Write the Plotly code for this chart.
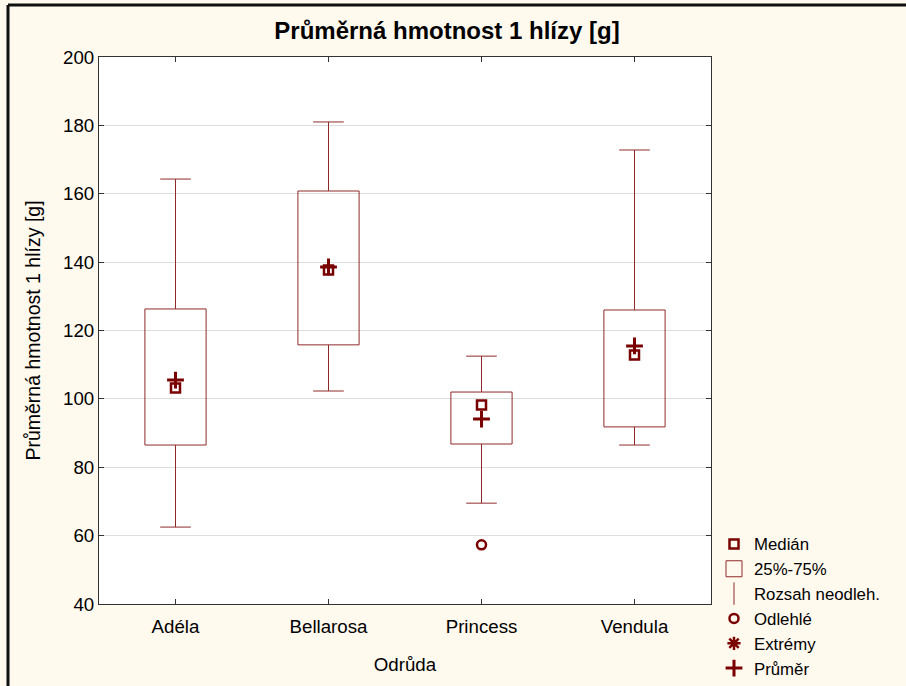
import plotly.graph_objects as go

categories = ["Adéla", "Bellarosa", "Princess", "Vendula"]
medians = [103.2, 137.7, 98.2, 112.8]
q1 = [86.5, 115.8, 86.8, 91.8]
q3 = [126.3, 160.8, 102.0, 126.0]
whisker_low = [62.5, 102.3, 69.5, 86.5]
whisker_high = [164.3, 181.0, 112.5, 172.8]
means = [105.5, 138.6, 94.1, 115.5]
outlier_cat = ["Princess"]
outlier_val = [57.3]
y_ticks = [40, 60, 80, 100, 120, 140, 160, 180, 200]

LINE = "#902A2A"
MARK = "#7A0000"
BOX_HALF = 0.2
CAP_HALF = 0.1
FS = 18.7

fig = go.Figure()

bx, by, wx, wy = [], [], [], []
for i in range(len(categories)):
    l, r = i - BOX_HALF, i + BOX_HALF
    bx += [l, r, r, l, l, None]
    by += [q1[i], q1[i], q3[i], q3[i], q1[i], None]
    wx += [i, i, None, i - CAP_HALF, i + CAP_HALF, None]
    wy += [q3[i], whisker_high[i], None, whisker_high[i], whisker_high[i], None]
    wx += [i, i, None, i - CAP_HALF, i + CAP_HALF, None]
    wy += [q1[i], whisker_low[i], None, whisker_low[i], whisker_low[i], None]

fig.add_trace(go.Scatter(x=bx, y=by, mode="lines", line=dict(color=LINE, width=1),
                         showlegend=False, hoverinfo="skip"))
fig.add_trace(go.Scatter(x=wx, y=wy, mode="lines", line=dict(color=LINE, width=1),
                         showlegend=False, hoverinfo="skip"))

idx = list(range(len(categories)))
fig.add_trace(go.Scatter(x=idx, y=medians, mode="markers", name="Medián",
                         marker=dict(symbol="square-open", size=9, color=MARK,
                                     line=dict(width=2.5, color=MARK))))
fig.add_trace(go.Scatter(x=[None], y=[None], mode="markers", name="25%-75%",
                         marker=dict(symbol="square-open", size=16, color=LINE,
                                     line=dict(width=1, color=LINE))))
fig.add_trace(go.Scatter(x=[None], y=[None], mode="markers", name="Rozsah neodleh.",
                         marker=dict(symbol="line-ns-open", size=17, color=LINE,
                                     line=dict(width=1, color=LINE))))
fig.add_trace(go.Scatter(x=[categories.index(c) for c in outlier_cat], y=outlier_val,
                         mode="markers", name="Odlehlé",
                         marker=dict(symbol="circle-open", size=9, color=MARK,
                                     line=dict(width=2.5, color=MARK))))
fig.add_trace(go.Scatter(x=[None], y=[None], mode="markers", name="Extrémy",
                         marker=dict(symbol="asterisk-open", size=11, color=MARK,
                                     line=dict(width=2.5, color=MARK))))
fig.add_trace(go.Scatter(x=idx, y=means, mode="markers", name="Průměr",
                         marker=dict(symbol="cross-thin-open", size=12, color=MARK,
                                     line=dict(width=3, color=MARK))))

fig.update_layout(
    width=906, height=686,
    margin=dict(l=99, r=195, t=57, b=82, autoexpand=False),
    paper_bgcolor="#FFF9EE",
    plot_bgcolor="#FFFFFF",
    font=dict(family="Liberation Sans, Arial", size=FS, color="#000000"),
    title=dict(text="<b>Průměrná hmotnost 1 hlízy [g]</b>", x=447 / 906, xanchor="center",
               xref="container", y=1 - 31 / 686, yanchor="middle",
               font=dict(size=24)),
    showlegend=True,
    legend=dict(x=(714 - 99) / 612, y=(604 - 526.5) / 547, xanchor="left", yanchor="top",
                bgcolor="rgba(0,0,0,0)", font=dict(size=16.8),
                tracegroupgap=0, itemsizing="trace"),
    xaxis=dict(range=[-0.5, 3.5], tickvals=idx, ticktext=categories,
               showgrid=False, zeroline=False, showline=True, linecolor="#333333",
               linewidth=1, mirror="ticks", ticks="inside", ticklen=5,
               tickcolor="#333333", tickfont=dict(size=FS), ticklabelstandoff=6,
               title=dict(text="Odrůda", standoff=21, font=dict(size=FS))),
    yaxis=dict(range=[40, 200], tickvals=y_ticks, showgrid=True, gridcolor="#DDDDDD",
               zeroline=False, showline=True, linecolor="#333333", linewidth=1,
               mirror="ticks", ticks="inside", ticklen=5, tickcolor="#333333",
               tickfont=dict(size=FS),
               title=dict(text="Průměrná hmotnost 1 hlízy [g]", standoff=17,
                          font=dict(size=19.5))),
)

fig.add_shape(type="line", xref="paper", yref="paper",
              x0=(8 - 99) / 612, x1=(910 - 99) / 612,
              y0=1 + (57 - 5) / 547, y1=1 + (57 - 5) / 547,
              line=dict(color="#111111", width=3))
fig.add_shape(type="line", xref="paper", yref="paper",
              x0=(8 - 99) / 612, x1=(8 - 99) / 612,
              y0=1 + (57 - 5) / 547, y1=-(690 - 604) / 547,
              line=dict(color="#111111", width=3))

fig.write_html("out.html", config={"displayModeBar": False},
               post_script="document.body.style.margin='0';")
